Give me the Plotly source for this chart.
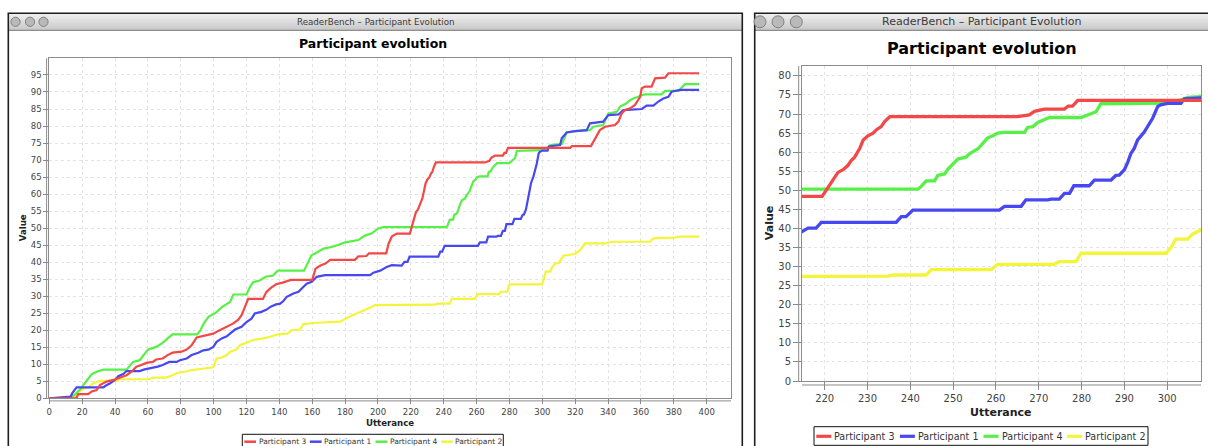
import plotly.graph_objects as go

W, H = 1208, 446

# ---------------------------------------------------------------- data
names = ["Participant 3", "Participant 1", "Participant 4", "Participant 2"]
colors = ["#f24848", "#4848f2", "#58f048", "#f4f43a"]

# cumulative value per utterance (breakpoints of each evolution curve)
p3_x = [0, 16.5, 17.6, 23.7, 25.8, 28.8, 30.8, 34.9, 39, 43, 47, 50, 53, 56, 59, 63, 65, 69, 72, 75,
        80.5, 83.6, 86.6, 89.7, 92.7, 96.8, 99.8, 102.8, 105.9, 108.9, 112, 115, 117, 119, 121, 130,
        132, 135, 138, 142, 147, 160, 162, 165, 168, 171, 186, 188, 193, 194.5, 205, 206.5, 208.5,
        211.5, 219.4, 220.8, 222, 223.1, 224.3, 225.4, 226.2, 227, 228.2, 229, 230.1, 231.3, 232.1,
        233.2, 234, 235.2, 265, 266, 267.8, 269, 270.5, 271.3, 276, 276.9, 277.9, 279.1, 317, 318,
        329.6, 331, 333, 335, 338.2, 344.2, 346.3, 348.3, 350.3, 353.4, 356.4, 359.5, 360.5, 362.5,
        366.5, 368.6, 374.7, 376.7, 395.4]
p3_y = [0, 0, 1.2, 1.2, 2, 2.4, 3.9, 4.9, 5.4, 6.1, 6.8, 7.8, 9.3, 9.8, 10.4, 10.7, 11.4, 11.7, 12.7, 13.4,
        13.7, 14.3, 15.6, 17.9, 18.2, 18.5, 19, 19.8, 20.5, 21.2, 22, 23.1, 24.4, 26.8, 29.2, 29.2,
        31.2, 32.5, 33.5, 34, 34.8, 34.8, 38.1, 39, 39.6, 40.7, 40.7, 41.7, 41.8, 42.6, 42.6, 45.5, 47.6,
        48.4, 48.4, 50.8, 52.5, 54.7, 55.4, 56.5, 57.8, 58.7, 61, 63.2, 64.3, 65, 65.9,
        66.7, 68, 69.3, 69.3, 69.5, 69.8, 70.7, 71.1, 71.3, 71.3, 72.1, 72.1, 73.6, 73.6, 74.1,
        74.1, 75.4, 76.9, 78.8, 79.8, 80.3, 81.3, 83.7, 84.7, 85.2, 86.2, 88.6, 91.1, 91.6,
        91.6, 94, 94.2, 95.5, 95.5]

p1_x = [0, 9, 13, 14, 16.6, 32.9, 34, 37, 40, 42, 45, 47, 55, 58, 62, 66, 69, 73, 77.5, 79.5, 83.6,
        86.6, 90.7, 93.7, 96.8, 99.8, 101.8, 104.9, 108, 111, 113, 117, 120, 123, 125, 129, 132, 135,
        138, 140.5, 142.4, 144.5, 148.5, 151.6, 154.6, 156.6, 159.7, 162.7, 167.8, 195.2, 197.2, 201.3,
        205.3, 208.4, 214.4, 216.1, 218, 219.2, 236.7, 237.9, 239, 240.6, 260.8, 262, 265.9, 267,
        272.1, 272.9, 274.8, 276, 277.2, 278.2, 281.8, 283, 286.9, 288, 288.8, 290, 290.8, 291.5,
        292.3, 293.1, 294.6, 296.6, 297.8, 298.5, 300.1, 303.2, 304, 310.8, 311.8, 314.8, 319.9,
        327, 329, 337, 340.2, 346.3, 349.3, 360.5, 363.5, 367.6, 370.6, 373.6, 376.7, 378.7,
        383.8, 395.4]
p1_y = [0, 0.3, 0.5, 1.5, 3.2, 3.2, 3.6, 4.4, 5.4, 6.5, 7.1, 8, 8, 8.5, 8.8, 9.3, 9.8, 10.7, 10.7, 11.2, 11.7,
        12.7, 13.4, 14.1, 14.3, 15.1, 16.6, 17.6, 18.2, 19.5, 20.2, 21, 22.4, 23.4, 24.9, 25.4, 26, 27,
        27.6, 27.8, 28.6, 29.8, 30.8, 31.3, 32.7, 33.7, 34.2, 35.7, 36.2, 36.2, 36.9, 37.5,
        38.6, 39.1, 39, 40.1, 40.1, 41.6, 41.6, 43.1, 43.1, 44.8, 44.8, 45.8, 45.8, 47.5,
        47.5, 47.7, 47.7, 49.2, 49.2, 51.2, 51.2, 52.7, 52.7, 53.9, 54, 55.4, 57.4, 59.6,
        61, 63.2, 65.2, 68.9, 72, 72.4, 72.8, 72.8, 74, 74.4, 76.4, 78.1, 78.5,
        78.8, 80.8, 81.3, 83.2, 83.4, 84.7, 85, 86, 86, 87.2, 88.1, 88.6, 90.1,
        90.6, 90.6]

p4_x = [0, 13.6, 18.7, 23, 25.8, 28.8, 32.9, 47, 51, 55, 60, 65, 69, 72, 75, 90, 92, 94, 97, 101, 105,
        110, 112, 120, 122, 124, 128, 132, 136, 139, 155, 157, 159.5, 162, 165, 167, 172.9, 180, 188,
        192, 196, 200.2, 203.3, 241.8, 242.6, 243.7, 245.7, 246.4, 248, 248.8, 250.3, 251.1, 253,
        253.8, 255.8, 256.5, 258, 259.3, 260.4, 262, 266.7, 267.4, 268.6, 269.8, 271.3, 272.5,
        279.9, 281.4, 282.2, 283.4, 284.5, 299.7, 303.2, 304.8, 312, 314.8, 319.9, 329, 331, 337,
        340.2, 345.3, 347.3, 351.3, 353.4, 355.4, 358.4, 360.5, 362.5, 372.6, 374.7, 382.8, 384.8,
        386.8, 395.4]
p4_y = [0, 0.2, 2.6, 5.4, 7.1, 7.8, 8.4, 8.4, 10.7, 11.2, 14.3, 15.1, 16.3, 17.6, 18.8, 18.8, 20, 22, 24, 25, 26.8,
        28.3, 30.5, 30.5, 32.6, 34.1, 34.6, 35.8, 36, 37.5, 37.5, 39.5, 42, 42.6, 43.3, 44, 44.6, 45.8, 46.5,
        47.8, 48.4, 49.9, 50.3, 50.3, 51.1, 52.5, 52.5, 53.9, 54.3, 55.6, 57.4, 58.2, 58.7,
        59.6, 60.9, 61.9, 63.7, 64.3, 65, 65.2, 65.2, 66.5, 66.7, 67.8, 68.5, 69.1,
        69.1, 69.8, 70.2, 70.6, 72.7, 72.9, 73.7, 74.4, 74.8, 78.1, 78.5, 78.8, 79.8, 80.3,
        83.7, 84.2, 85.7, 86.7, 87.6, 88.1, 88.6, 89.1, 89.3, 89.3, 90.3, 90.3, 91.3,
        92.3, 92.3]

p2_x = [0, 15, 16.6, 19.7, 23.7, 26.8, 30.8, 41, 43, 61, 63, 71, 75, 78.5, 82.6, 86.6, 91.7, 99.8, 101.8,
        104.9, 108, 110, 114, 116, 120, 124, 130, 134, 139, 145, 147.5, 152.6, 154.6, 162.7, 176.9, 180,
        183, 187, 191.1, 194.2, 198.2, 234.8, 236.3, 243.7, 244.9, 258.9, 260.4, 273.6, 274.8, 278.7,
        279.9, 299.7, 300.9, 302, 304.8, 305.9, 307.9, 310, 312.8, 319.9, 322.9, 326, 338.2, 342.2,
        365.5, 367.6, 380.7, 382.8, 395.4]
p2_y = [0, 0, 1, 2.6, 3.2, 4.4, 5.1, 5.1, 5.6, 5.6, 6.1, 6.1, 6.8, 7.5, 7.8, 8.3, 8.6, 9.1, 11.7,
        12, 12.7, 13.7, 14.3, 15.6, 16.3, 17.1, 17.6, 18, 18.8, 19, 20, 20.2, 21.8, 22.2, 22.5, 23.4,
        24.1, 24.9, 25.7, 26.4, 27.4, 27.5, 27.8, 27.8, 29.2, 29.2, 30.6, 30.6, 31.3, 31.3,
        33.5, 33.5, 35, 37.2, 37.2, 38.5, 39.6, 39.7, 41.9, 42.4, 43.5, 45.5, 45.5, 46,
        46, 47, 47.2, 47.5, 47.5]

series_x = [p3_x, p1_x, p4_x, p2_x]
series_y = [p3_y, p1_y, p4_y, p2_y]

full_xticks = list(range(0, 401, 20))
full_yticks = list(range(0, 96, 5))
detail_xticks = list(range(220, 301, 10))
detail_yticks = list(range(0, 81, 5))

FONT = "DejaVu Sans"


# ---------------------------------------------------------------- helpers
def X(p):
    return p / W


def Y(p):
    return 1 - p / H


shapes = []
annotations = []


def rect(x0, y0, x1, y1, layer="below", **kw):
    shapes.append(dict(type="rect", xref="paper", yref="paper", layer=layer,
                       x0=X(x0), x1=X(x1), y0=Y(y1), y1=Y(y0), **kw))


def seg(x0, y0, x1, y1, color, width, layer="below"):
    shapes.append(dict(type="line", xref="paper", yref="paper", layer=layer,
                       x0=X(x0), x1=X(x1), y0=Y(y0), y1=Y(y1),
                       line=dict(color=color, width=width)))


def label(text, x, y, size, color="#000", bold=False, xanchor="center", angle=0):
    annotations.append(dict(text=f"<b>{text}</b>" if bold else text, x=X(x), y=Y(y),
                            xref="paper", yref="paper", showarrow=False, xanchor=xanchor,
                            yanchor="middle", textangle=angle,
                            font=dict(family=FONT, size=size, color=color)))


def window(left, right, top, bar_bottom, dot_r, dot_x, title, title_x, title_size):
    # gradient title bar drawn as thin stripes
    n = 17
    step = (bar_bottom - top) / n
    for k in range(n):
        c = int(238 - (238 - 194) * k / (n - 1))
        rect(left, top + k * step, right, top + (k + 1) * step + 0.3,
             fillcolor=f"rgb({c},{c},{c})", line=dict(width=0))
    seg(left, bar_bottom, right, bar_bottom, "#7a7a7a", 1)
    rect(left, top, right, H + 10, line=dict(color="#1e1e1e", width=1.6),
         fillcolor="rgba(0,0,0,0)", layer="above")
    cy = (top + bar_bottom) / 2
    for cx in dot_x:
        shapes.append(dict(type="circle", xref="paper", yref="paper", layer="above",
                           x0=X(cx - dot_r), x1=X(cx + dot_r), y0=Y(cy + dot_r), y1=Y(cy - dot_r),
                           fillcolor="#b9b9b9", line=dict(color="#808080", width=1)))
    label(title, title_x, cy, title_size, color="#3a3a3a")


def axis_style(tickvals, rng, domain, anchor, size, ticklen):
    return dict(domain=domain, range=rng, anchor=anchor, tickmode="array", tickvals=tickvals,
                ticks="outside", ticklen=ticklen, tickwidth=1, tickcolor="#8a8a8a",
                tickfont=dict(family=FONT, size=size, color="#444444"),
                showgrid=True, gridcolor="#e3e3e3", griddash="dot", gridwidth=1,
                showline=True, linecolor="#8c8c8c", linewidth=1, mirror=True,
                zeroline=False, automargin=False, fixedrange=True)


# ---------------------------------------------------------------- figure
fig = go.Figure()

for i in reversed(range(len(names))):
    fig.add_trace(go.Scatter(x=series_x[i], y=series_y[i], mode="lines", name=names[i],
                             line=dict(color=colors[i], width=2.2), xaxis="x", yaxis="y",
                             showlegend=False, hoverinfo="skip"))
    fig.add_trace(go.Scatter(x=series_x[i], y=series_y[i], mode="lines", name=names[i],
                             line=dict(color=colors[i], width=3.3), xaxis="x2", yaxis="y2",
                             showlegend=False, hoverinfo="skip"))

# windows
window(8.3, 742.3, 13.3, 30.3, 4.6, [15.5, 30, 43.5],
       "ReaderBench – Participant Evolution", 375.3, 8.7)
window(754.7, 1230, 13.3, 30.3, 6, [760, 778, 796.3],
       "ReaderBench – Participant Evolution", 981.3, 11)

# plot areas (pixel boxes)
full = dict(l=49.3, r=731, t=58.3, b=398.3)
detail = dict(l=802, r=1201, t=66, b=381)

# detached axis lines
seg(46.6, full["t"], 46.6, full["b"], "#8c8c8c", 1)
seg(full["l"], 400.9, full["r"], 400.9, "#8c8c8c", 1)
seg(798.7, detail["t"], 798.7, detail["b"], "#8c8c8c", 1)
seg(detail["l"], 385, detail["r"], 385, "#8c8c8c", 1)

# titles
label("Participant evolution", 373.4, 43.6, 12.5, bold=True)
label("Participant evolution", 981.8, 48.3, 16, bold=True)
label("Utterance", 389.5, 423.3, 8.6, color="#222", bold=True)
label("Value", 22.7, 227.5, 8.6, color="#222", bold=True, angle=-90)
label("Utterance", 1001.3, 412.7, 11, color="#222", bold=True)
label("Value", 769.7, 223.5, 11, color="#222", bold=True, angle=-90)

# legends
rect(242.3, 434.3, 503.3, H + 10, line=dict(color="#111", width=1), fillcolor="white", layer="above")
rect(814, 426.7, 1148, 445.3, line=dict(color="#111", width=1), fillcolor="white", layer="above")
for i, name in enumerate(names):
    sx = 244.3 + i * 65.6
    seg(sx, 441.7, sx + 11.7, 441.7, colors[i], 2.5, layer="above")
    label(name, sx + 12.2, 441.7, 7.5, color="#333", xanchor="left")
    sx = 816.3 + i * 83.6
    seg(sx, 436.3, sx + 15, 436.3, colors[i], 3.2, layer="above")
    label(name, sx + 16, 436.3, 9.6, color="#333", xanchor="left")

fig.update_layout(
    width=W, height=H, autosize=False, template="none",
    margin=dict(l=0, r=0, t=0, b=0, pad=0),
    paper_bgcolor="white", plot_bgcolor="rgba(0,0,0,0)",
    showlegend=False,
    xaxis=axis_style(full_xticks, [0, 414.8], [X(full["l"]), X(full["r"])], "y", 8.5, 5),
    yaxis=axis_style(full_yticks, [0, 99.9], [Y(full["b"]), Y(full["t"])], "x", 8.5, 5),
    xaxis2=axis_style(detail_xticks, [214.7, 307.9], [X(detail["l"]), X(detail["r"])], "y2", 10, 8),
    yaxis2=axis_style(detail_yticks, [0, 82.6], [Y(detail["b"]), Y(detail["t"])], "x2", 10, 8),
    shapes=shapes,
    annotations=annotations,
)

fig.write_html("out.html")
